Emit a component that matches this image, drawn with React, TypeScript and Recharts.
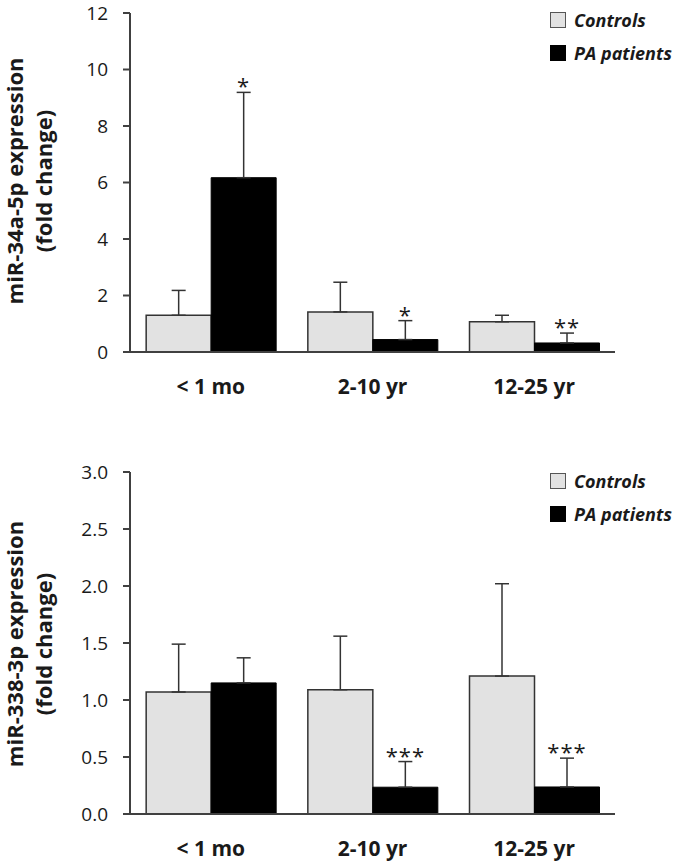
import React from "react"
import { BarChart, Bar, XAxis, YAxis, ErrorBar, LabelList, Legend } from "recharts"

const groups = ["< 1 mo", "2-10 yr", "12-25 yr"]
const seriesNames = ["Controls", "PA patients"]

// miR-34a-5p panel
const mir34Controls = [1.3, 1.42, 1.07]
const mir34ControlsErr = [0.88, 1.05, 0.23]
const mir34Patients = [6.17, 0.44, 0.32]
const mir34PatientsErr = [3.02, 0.67, 0.35]
const mir34Stars = ["*", "*", "**"]
const mir34Ticks = [0, 2, 4, 6, 8, 10, 12]

// miR-338-3p panel
const mir338Controls = [1.07, 1.09, 1.21]
const mir338ControlsErr = [0.42, 0.47, 0.81]
const mir338Patients = [1.15, 0.235, 0.237]
const mir338PatientsErr = [0.22, 0.225, 0.253]
const mir338Stars = ["", "***", "***"]
const mir338Ticks = [0, 0.5, 1, 1.5, 2, 2.5, 3]

const FONT = "'Open Sans', sans-serif"
const TEXT = "#1a1a1a"
const AXIS = "#404040"
const CTRL_FILL = "#e2e2e2"
const PA_FILL = "#000000"

const buildRows = (ctrl: number[], ctrlErr: number[], pa: number[], paErr: number[]) =>
  groups.map((g, i) => ({ group: g, ctrl: ctrl[i], ctrlErr: ctrlErr[i], pa: pa[i], paErr: paErr[i] }))

const CategoryTick = (props: any) => {
  const { x, y, payload } = props
  return (
    <text x={x} y={y + 42} textAnchor="middle" fontFamily={FONT} fontWeight={700} fontSize={21} fill={TEXT}>
      {payload.value}
    </text>
  )
}

const starContent = (stars: string[], means: number[], errs: number[]) => (props: any) => {
  const { x, y, width, height, index } = props
  const s = stars[index]
  if (!s) return null
  const perUnit = Number(height) / means[index]
  const top = Number(y) - errs[index] * perUnit
  return (
    <text x={Number(x) + Number(width) / 2} y={top + 2} textAnchor="middle" fontFamily={FONT} fontSize={22} letterSpacing={1} fill={TEXT}>
      {s}
    </text>
  )
}

const LegendBox = () => (
  <div style={{ fontFamily: FONT, fontWeight: 700, fontStyle: "italic", fontSize: 18, color: TEXT }}>
    {seriesNames.map((n, i) => (
      <div key={n} style={{ display: "flex", alignItems: "center", height: 33 }}>
        <span
          style={{
            display: "inline-block",
            width: 14,
            height: 14,
            background: i === 0 ? CTRL_FILL : PA_FILL,
            border: `1px solid ${i === 0 ? "#555" : "#000"}`,
            marginRight: 8,
          }}
        />
        {n}
      </div>
    ))}
  </div>
)

const yLabel = (lines: string[], cy: number) => () => (
  <text transform={`translate(23, ${cy}) rotate(-90)`} textAnchor="middle" fontFamily={FONT} fontWeight={700} fontSize={22} fill={TEXT}>
    <tspan x={0} y={0}>{lines[0]}</tspan>
    <tspan x={0} y={29}>{lines[1]}</tspan>
  </text>
)

interface PanelProps {
  rows: any[]
  ticks: number[]
  stars: string[]
  paMeans: number[]
  paErrs: number[]
  labelLines: string[]
  labelCenter: number
  height: number
  top: number
  xAxisHeight: number
  legendTop: number
  fmt: (v: number) => string
}

function Panel({ rows, ticks, stars, paMeans, paErrs, labelLines, labelCenter, height, top, xAxisHeight, legendTop, fmt }: PanelProps) {
  return (
    <BarChart
      width={675}
      height={height}
      data={rows}
      margin={{ top, right: 60, bottom: 0, left: 0 }}
      barCategoryGap="10%"
      barGap={0}
    >
      <XAxis
        dataKey="group"
        height={xAxisHeight}
        tickLine={false}
        tickSize={0}
        tickMargin={0}
        axisLine={{ stroke: AXIS, strokeWidth: 2 }}
        tick={<CategoryTick />}
      />
      <YAxis
        width={130}
        domain={[ticks[0], ticks[ticks.length - 1]]}
        ticks={ticks}
        tickFormatter={fmt}
        tickSize={7}
        tickMargin={15}
        axisLine={{ stroke: AXIS, strokeWidth: 2 }}
        tickLine={{ stroke: AXIS, strokeWidth: 2 }}
        tick={{ fill: TEXT, fontSize: 19, fontFamily: FONT }}
        label={{ content: yLabel(labelLines, labelCenter) }}
      />
      <Legend
        layout="vertical"
        align="center"
        verticalAlign="middle"
        content={<LegendBox />}
        wrapperStyle={{ left: 550, top: legendTop, width: 125 }}
      />
      <Bar dataKey="ctrl" name={seriesNames[0]} fill={CTRL_FILL} stroke="#333" strokeWidth={1.5} isAnimationActive={false}>
        <ErrorBar dataKey={(d: any) => [0, d.ctrlErr]} width={7} stroke="#333" strokeWidth={1.5} direction="y" />
      </Bar>
      <Bar dataKey="pa" name={seriesNames[1]} fill={PA_FILL} stroke="#000" strokeWidth={1} isAnimationActive={false}>
        <ErrorBar dataKey={(d: any) => [0, d.paErr]} width={7} stroke="#333" strokeWidth={1.5} direction="y" />
        <LabelList dataKey="pa" content={starContent(stars, paMeans, paErrs)} />
      </Bar>
    </BarChart>
  )
}

export default function App() {
  const rows34 = buildRows(mir34Controls, mir34ControlsErr, mir34Patients, mir34PatientsErr)
  const rows338 = buildRows(mir338Controls, mir338ControlsErr, mir338Patients, mir338PatientsErr)
  return (
    <div style={{ position: "absolute", left: 0, top: 0, width: 675, height: 863, background: "#fff" }}>
      <div style={{ position: "absolute", left: 0, top: 0 }}>
        <Panel
          rows={rows34}
          ticks={mir34Ticks}
          stars={mir34Stars}
          paMeans={mir34Patients}
          paErrs={mir34PatientsErr}
          labelLines={["miR-34a-5p expression", "(fold change)"]}
          labelCenter={181}
          height={410}
          top={13}
          xAxisHeight={58}
          legendTop={3}
          fmt={(v) => String(v)}
        />
      </div>
      <div style={{ position: "absolute", left: 0, top: 440 }}>
        <Panel
          rows={rows338}
          ticks={mir338Ticks}
          stars={mir338Stars}
          paMeans={mir338Patients}
          paErrs={mir338PatientsErr}
          labelLines={["miR-338-3p expression", "(fold change)"]}
          labelCenter={204}
          height={423}
          top={32}
          xAxisHeight={49}
          legendTop={24}
          fmt={(v) => v.toFixed(1)}
        />
      </div>
    </div>
  )
}
